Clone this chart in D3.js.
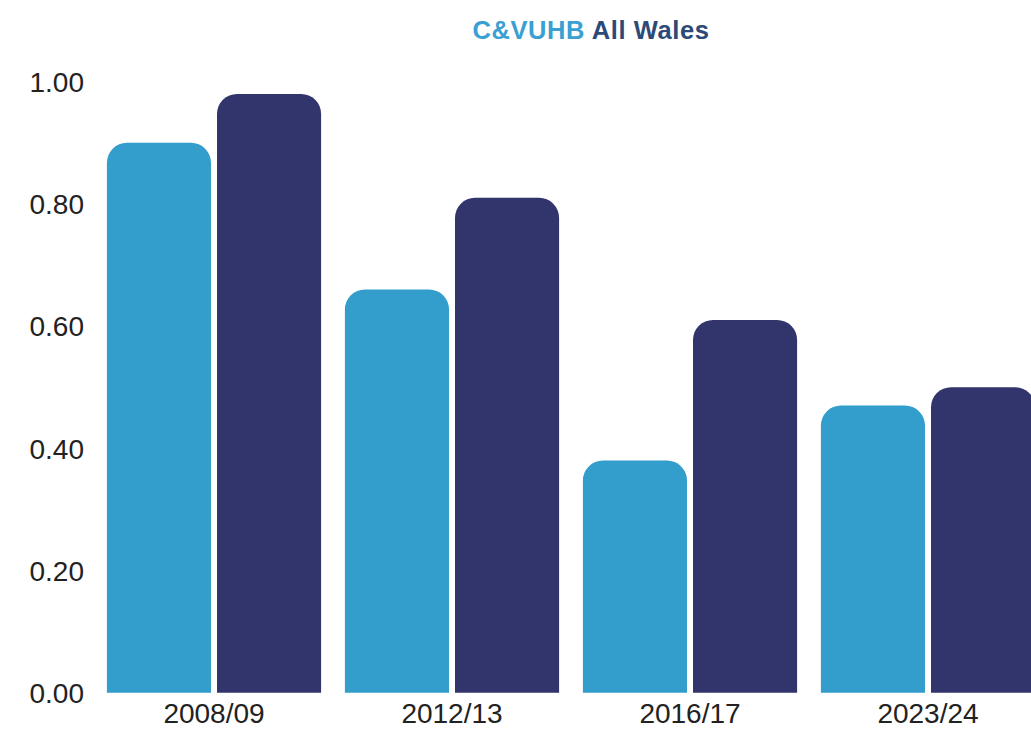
<!DOCTYPE html>
<html>
<head>
<meta charset="utf-8">
<script src="https://cdn.jsdelivr.net/npm/d3@7"></script>
<style>
  html, body { margin: 0; padding: 0; background: #fff; }
  svg { display: block; }
</style>
</head>
<body>
<svg id="chart" width="1031" height="731"></svg>
<script>
const categories = ["2008/09", "2012/13", "2016/17", "2023/24"];
const seriesNames = ["C&VUHB", "All Wales"];
const cvuhbValues = [0.90, 0.66, 0.38, 0.47];
const allWalesValues = [0.98, 0.81, 0.61, 0.50];
const yTicks = [0, 0.2, 0.4, 0.6, 0.8, 1.0];
const seriesColors = ["#339dcc", "#32346c"];
const titleColors = ["#3a9fd2", "#2c4a78"];

const svg = d3.select("#chart");

const x0 = d3.scaleBand().domain(categories).range([95, 1047]).paddingInner(0.1).paddingOuter(0.05);
const x1 = d3.scaleBand().domain(seriesNames).range([0, x0.bandwidth()]).paddingInner(0.0545);
const y = d3.scaleLinear().domain([0, 1]).range([692.7, 81.7]);

const data = categories.map((c, i) => ({
  cat: c,
  vals: [
    { s: seriesNames[0], v: cvuhbValues[i] },
    { s: seriesNames[1], v: allWalesValues[i] }
  ]
}));

function topRounded(x, yTop, w, yBot, r) {
  r = Math.min(r, w / 2, yBot - yTop);
  return `M${x},${yBot}V${yTop + r}A${r},${r} 0 0 1 ${x + r},${yTop}H${x + w - r}A${r},${r} 0 0 1 ${x + w},${yTop + r}V${yBot}Z`;
}

const color = d3.scaleOrdinal().domain(seriesNames).range(seriesColors);

svg.append("g").selectAll("g")
  .data(data).join("g")
  .attr("transform", d => `translate(${x0(d.cat)},0)`)
  .selectAll("path")
  .data(d => d.vals).join("path")
  .attr("d", d => topRounded(x1(d.s), y(d.v), x1.bandwidth(), y(0), 20))
  .attr("fill", d => color(d.s));

// Y axis
const yAxis = d3.axisLeft(y).tickValues(yTicks).tickFormat(d3.format(".2f")).tickSize(0).tickPadding(0);
const yg = svg.append("g").attr("transform", "translate(84,0)").call(yAxis);
yg.select(".domain").remove();
yg.selectAll("text")
  .attr("font-family", "Liberation Sans, Arial, sans-serif")
  .attr("font-size", 28)
  .attr("fill", "#222")
  .attr("dy", "0.35em");

// X axis
const xAxis = d3.axisBottom(x0).tickSize(0).tickPadding(0);
const xg = svg.append("g").attr("transform", "translate(0,696)").call(xAxis);
xg.select(".domain").remove();
xg.selectAll("text")
  .attr("font-family", "Liberation Sans, Arial, sans-serif")
  .attr("font-size", 28)
  .attr("fill", "#222")
  .attr("dy", "0.95em");

// Title / legend
const title = svg.append("text")
  .attr("x", 591).attr("y", 39)
  .attr("text-anchor", "middle")
  .attr("font-family", "Liberation Sans, Arial, sans-serif")
  .attr("font-weight", "bold")
  .attr("font-size", 25.5)
  .attr("letter-spacing", "0.6px");
seriesNames.forEach((s, i) => {
  title.append("tspan").attr("fill", titleColors[i]).text((i > 0 ? " " : "") + s);
});
</script>
</body>
</html>
